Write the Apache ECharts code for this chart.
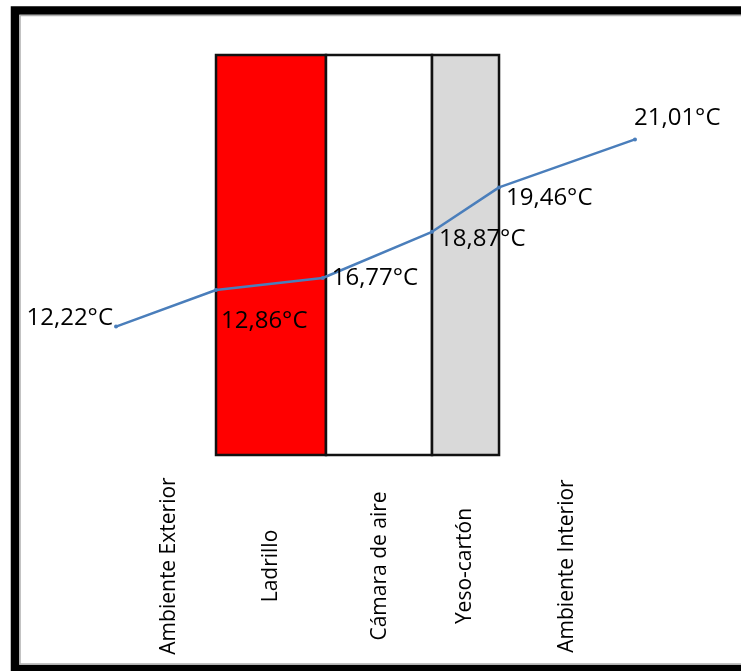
<!DOCTYPE html>
<html>
<head>
<meta charset="utf-8">
<script src="https://cdn.jsdelivr.net/npm/echarts@6/dist/echarts.min.js"></script>
<style>
html,body{margin:0;padding:0;background:#fff;}
#chart{width:741px;height:671px;}
</style>
</head>
<body>
<div id="chart"></div>
<script>
// Position across the wall section (relative units, 0 = exterior point, 100 = interior point)
var pointX = [0, 19.27, 39.83, 60.89, 73.80, 100];
// Vertical position of the temperature profile (relative units)
var pointY = [32.1, 41.25, 44.25, 55.8, 66.9, 78.9];
// Temperature labels
var tempLabels = ['12,22°C', '12,86°C', '16,77°C', '18,87°C', '19,46°C', '21,01°C'];

// Layers of the wall
var layerNames = ['Ladrillo', 'Cámara de aire', 'Yeso-cartón'];
var layerStart = [19.27, 40.46, 60.89];
var layerEnd = [40.46, 60.89, 73.80];
var layerColors = ['#ff0000', '#ffffff', '#d9d9d9'];

// Category labels along the bottom
var categories = ['Ambiente Exterior', 'Ladrillo', 'Cámara de aire', 'Yeso-cartón', 'Ambiente Interior'];
var categoryPos = [10.2, 29.9, 50.8, 67.2, 86.9];

// label placement (layout only)
var labelLayout = [
  {position: 'left', distance: 1, offset: [0, -8]},
  {position: 'right', distance: 3, offset: [0, 31]},
  {position: 'right', distance: 7, offset: [0, 0]},
  {position: 'right', distance: 5, offset: [0, 7]},
  {position: 'right', distance: 5, offset: [0, 11]},
  {position: 'right', distance: 5, offset: [-8, -21]}
];

var lineData = pointX.map(function (x, i) {
  var l = labelLayout[i];
  return {
    value: [x, pointY[i]],
    label: {
      show: true,
      formatter: tempLabels[i],
      position: l.position,
      distance: l.distance,
      offset: l.offset
    }
  };
});

var areas = layerNames.map(function (n, i) {
  return [
    {xAxis: layerStart[i], itemStyle: {color: layerColors[i], borderColor: '#111', borderWidth: 2.5, opacity: 1}},
    {xAxis: layerEnd[i]}
  ];
});

var chart = echarts.init(document.getElementById('chart'), null, {renderer: 'canvas'});
chart.setOption({
  animation: false,
  backgroundColor: '#ffffff',
  textStyle: {fontFamily: 'Open Sans'},
  grid: {left: 116, right: 106, top: 55, bottom: 216, containLabel: false},
  xAxis: {
    type: 'value', min: 0, max: 100,
    axisLine: {show: false}, axisTick: {show: false}, splitLine: {show: false},
    axisLabel: {
      show: true,
      customValues: categoryPos,
      rotate: 90,
      align: 'center',
      verticalAlign: 'middle',
      margin: 111,
      fontSize: 21,
      color: '#000',
      fontFamily: 'Open Sans',
      formatter: function (v) {
        var idx = categoryPos.indexOf(v);
        return idx >= 0 ? categories[idx] : '';
      }
    }
  },
  yAxis: {
    type: 'value', min: 0, max: 100, show: false
  },
  series: [{
    type: 'line',
    data: lineData,
    symbol: 'circle',
    symbolSize: 4,
    lineStyle: {color: '#4a7ebb', width: 2.5},
    itemStyle: {color: '#4a7ebb'},
    label: {color: '#000', fontSize: 24, fontFamily: 'Open Sans'},
    z: 5,
    markArea: {
      silent: true,
      label: {show: false},
      data: areas
    }
  }],
  graphic: [
    {type: 'rect', shape: {x: 15, y: 10.5, width: 800, height: 658.5}, style: {fill: null, stroke: '#000', lineWidth: 8.5}, z: 100},
    {type: 'rect', shape: {x: 20, y: 15.5, width: 800, height: 648.5}, style: {fill: null, stroke: '#b0b0b0', lineWidth: 1.5}, z: 100}
  ]
});
</script>
</body>
</html>
